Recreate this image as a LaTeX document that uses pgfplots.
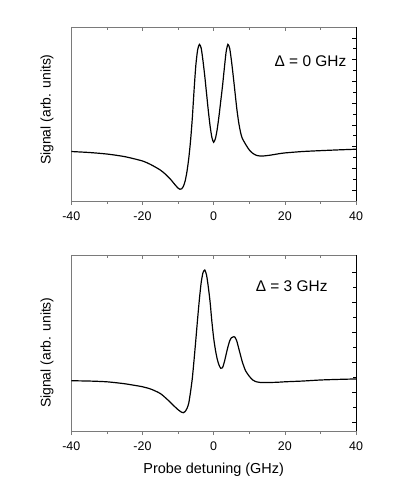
\documentclass[border=0pt]{standalone}
\usepackage{fontspec}
\setmainfont{Liberation Sans}
\usepackage{pgfplots}
\pgfplotsset{compat=1.18}

% top panel, signal in arb. units (0..16)
\pgfplotstableread{
x y
-40 4.55
-35 4.46
-30 4.32
-25 4.08
-20 3.68
-17.5 3.32
-15 2.85
-13.5 2.45
-12 1.95
-11 1.55
-10 1.18
-9.5 1.08
-9 1.12
-8.5 1.35
-8 1.85
-7.5 2.7
-7 3.9
-6.5 5.5
-6 7.6
-5.5 10.2
-5 12.5
-4.5 13.9
-4 14.4
-3.5 14.05
-3 12.9
-2.5 11.5
-2 9.9
-1.5 8.3
-1 6.9
-0.5 5.85
0 5.4
0.5 5.75
1 6.6
1.5 7.8
2 9.2
2.5 10.6
3 12.2
3.5 13.7
4 14.4
4.5 14.05
5 12.9
5.5 11.5
6 10.0
6.5 8.5
7 7.3
7.5 6.4
8 5.8
9 5.2
10 4.7
11 4.38
12 4.2
13 4.14
14 4.14
16 4.22
18 4.33
20 4.42
25 4.55
30 4.63
35 4.7
40 4.76
}\topdata

% bottom panel
\pgfplotstableread{
x y
-40 3.35
-35 3.33
-30 3.28
-25 3.15
-20 2.95
-17.5 2.78
-15 2.5
-13 2.1
-11.5 1.75
-10 1.42
-9 1.25
-8.5 1.22
-8 1.3
-7.5 1.5
-7 1.85
-6.5 2.6
-6 3.5
-5.5 4.75
-5 6.1
-4.5 7.5
-4 8.8
-3.5 9.9
-3 10.55
-2.5 10.73
-2 10.4
-1.5 9.6
-1 8.6
-0.5 7.3
0 6.2
0.5 5.4
1 4.8
1.5 4.4
2 4.18
2.5 4.22
3 4.6
3.5 5.1
4 5.6
4.5 6.0
5 6.22
5.7 6.29
6 6.25
6.5 6.0
7 5.55
7.5 5.1
8 4.65
8.5 4.3
9 4.0
10 3.65
11 3.4
12 3.28
13 3.24
15 3.23
18 3.25
20 3.28
25 3.33
30 3.4
35 3.44
40 3.47
}\botdata

\definecolor{frame}{HTML}{7A7A7A}

\pgfplotsset{
  panel/.style={
    scale only axis, width=284.7bp, anchor=south west,
    xmin=-40, xmax=40,
    xtick={-40,-20,0,20,40}, minor xtick={-30,-10,10,30},
    xtick pos=bottom, ytick=\empty,
    tick align=outside,
    major tick length=4bp, minor tick length=3bp,
    axis line style={frame, line width=0.6pt},
    x tick style={frame, line width=0.6pt},
    /pgf/number format/assume math mode=true,
    tick label style={font=\fontsize{12.5}{14}\selectfont},
    xticklabel style={yshift=-3bp},
    every axis y label/.style={rotate=90, anchor=center,
      font=\fontsize{14}{16}\selectfont},
    ylabel={Signal (arb. units)},
    clip=false,
  },
  ticks/.style={
    scale only axis, width=284.7bp, anchor=south west,
    xmin=-40, xmax=40,
    xtick={-40,-20,0,20,40}, minor xtick={-30,-10,10,30},
    axis x line*=top, axis y line*=right,
    axis line style={-},
    x axis line style={draw=none},
    y axis line style={black, line width=1pt},
    tick align=inside,
    major tick length=4.5bp, minor tick length=3bp,
    x tick style={frame, line width=0.6pt},
    y tick style={black, line width=0.7pt},
    xticklabels={}, yticklabels={},
  },
  curve/.style={black, line width=1.2pt, smooth, tension=0.4},
}

\begin{document}
\begin{tikzpicture}
\path[use as bounding box] (0,0) rectangle (395bp,501bp);

% top panel
\begin{axis}[panel, at={(71.3bp,300bp)}, height=174bp, ymin=0, ymax=16,
  every axis y label/.append style={at={(axis description cs:-0.085,0.525)}}]
\addplot[curve] table {\topdata};
\node[font=\fontsize{15.5}{17}\selectfont] at (rel axis cs:0.840,0.805) {Δ = 0 GHz};
\end{axis}
\begin{axis}[ticks, at={(71.3bp,300bp)}, height=174bp, ymin=0, ymax=16,
  ytick={1,3,...,15}, minor ytick={2,4,...,14}]
\end{axis}

% bottom panel
\begin{axis}[panel, at={(71.3bp,70bp)}, height=176bp, ymin=0, ymax=11.733,
  every axis y label/.append style={at={(axis description cs:-0.085,0.445)}},
  xlabel={Probe detuning (GHz)},
  every axis x label/.style={at={(axis description cs:0.5,0)}, anchor=center,
    yshift=-39bp, font=\fontsize{14.5}{16}\selectfont}]
\addplot[curve] table {\botdata};
\node[font=\fontsize{15.5}{17}\selectfont] at (rel axis cs:0.774,0.82) {Δ = 3 GHz};
\end{axis}
\begin{axis}[ticks, at={(71.3bp,70bp)}, height=176bp, ymin=0, ymax=11.733,
  ytick={0.6,2.6,...,10.6}, minor ytick={1.6,3.6,...,9.6}]
\end{axis}
\end{tikzpicture}
\end{document}
